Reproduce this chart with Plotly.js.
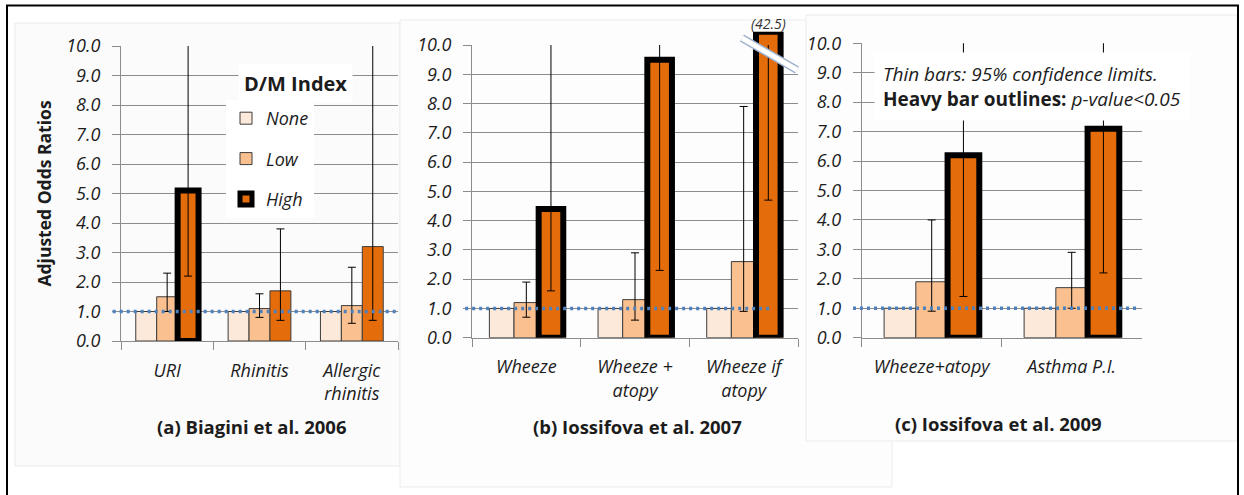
<!DOCTYPE html>
<html><head><meta charset="utf-8">
<script src="https://cdn.plot.ly/plotly-3.0.1.min.js"></script>
<style>html,body{margin:0;padding:0;background:#fff}#chart{width:1244px;height:495px}</style>
</head><body><div id="chart"></div>
<script>
// ---------- data ----------
// upper confidence limits that run off the top of the axis are stored as null
const seriesNames = ['None', 'Low', 'High'];
const refOR = 1.0;

const catsA = ['URI', 'Rhinitis', 'Allergic<br>rhinitis'];
const noneA = [1.0, 1.0, 1.0];
const lowA = [1.5, 1.1, 1.2];
const lowA_lo = [1.0, 0.8, 0.6];
const lowA_hi = [2.3, 1.6, 2.5];
const highA = [5.1, 1.7, 3.2];
const highA_lo = [2.2, 0.7, 0.7];
const highA_hi = [null, 3.8, null];
const sigA = [true, false, false];

const catsB = ['Wheeze', 'Wheeze +<br>atopy', 'Wheeze if<br>atopy'];
const noneB = [1.0, 1.0, 1.0];
const lowB = [1.2, 1.3, 2.6];
const lowB_lo = [0.7, 0.6, 0.9];
const lowB_hi = [1.9, 2.9, 7.9];
const highB = [4.4, 9.5, 42.5];
const highB_lo = [1.6, 2.3, 4.7];
const highB_hi = [null, null, null];
const sigB = [true, true, true];

const catsC = ['Wheeze+atopy', 'Asthma P.I.'];
const noneC = [1.0, 1.0];
const lowC = [1.9, 1.7];
const lowC_lo = [0.9, 1.0];
const lowC_hi = [4.0, 2.9];
const highC = [6.2, 7.1];
const highC_lo = [1.4, 2.2];
const highC_hi = [null, null];
const sigC = [true, true];

const panelTitles = ['(a) Biagini et al. 2006', '(b) Iossifova et al. 2007', '(c) Iossifova et al. 2009'];

// ---------- styling ----------
const W = 1244, H = 495;
const FONT = '"Open Sans", Lato, "DejaVu Sans", sans-serif';
const TXT = '#1c1c1c';
const GRID = '#8c8c8c';
const COLORS = {None: '#FDE9D9', Low: '#FAC090', High: '#E46C0A'};
const THIN = '#3c3c3c';
const BARGAP = 0.32;
const Y_TOP = 10;       // top of every value axis
const Y_BREAK = 10.45;  // where the off-scale bar of panel (b) is cut

const px = v => v / W;
const py = v => 1 - v / H;

function errY(vals, lo, hi) {
  return {type: 'data', symmetric: false,
    array: hi.map((h, i) => (h === null ? Y_TOP + 1 : h) - vals[i]),
    arrayminus: lo.map((l, i) => vals[i] - l),
    color: '#000', thickness: 1, width: 4};
}
const highLine = sig => ({color: sig.map(s => s ? '#000' : THIN), width: sig.map(s => s ? 6 : 1)});

const traces = [];
function addPanel(cats, none, low, lowLo, lowHi, high, highLo, highHi, sig, xa, ya, first, grp) {
  const highShown = high.map(v => Math.min(v, Y_BREAK));
  traces.push({type: 'bar', name: 'None', x: cats, y: none, xaxis: xa, yaxis: ya,
    marker: {color: COLORS.None, line: {color: THIN, width: 1}},
    alignmentgroup: grp, offsetgroup: 'None',
    showlegend: first, legendgroup: 'g1', hoverinfo: 'skip'});
  traces.push({type: 'bar', name: 'Low', x: cats, y: low, xaxis: xa, yaxis: ya,
    marker: {color: COLORS.Low, line: {color: THIN, width: 1}},
    error_y: errY(low, lowLo, lowHi), alignmentgroup: grp, offsetgroup: 'Low',
    showlegend: first, legendgroup: 'g2', hoverinfo: 'skip'});
  traces.push({type: 'bar', name: 'High', x: cats, y: highShown, xaxis: xa, yaxis: ya,
    marker: {color: COLORS.High, line: highLine(sig)},
    error_y: errY(highShown, highLo, highHi), alignmentgroup: grp, offsetgroup: 'High',
    showlegend: first, legendgroup: 'g3', hoverinfo: 'skip'});
  return highShown;
}
addPanel(catsA, noneA, lowA, lowA_lo, lowA_hi, highA, highA_lo, highA_hi, sigA, 'x', 'y', true, 'a');
const highBShown = addPanel(catsB, noneB, lowB, lowB_lo, lowB_hi, highB, highB_lo, highB_hi, sigB, 'x2', 'y2', false, 'b');
addPanel(catsC, noneC, lowC, lowC_lo, lowC_hi, highC, highC_lo, highC_hi, sigC, 'x3', 'y3', false, 'c');
// part of the off-scale bar above the axis top (thin strip subplot above panel b)
traces.push({type: 'bar', name: 'High', x: catsB, y: highBShown, xaxis: 'x2', yaxis: 'y4',
  marker: {color: COLORS.High, line: highLine(sigB)}, alignmentgroup: 'b', offsetgroup: 'High',
  showlegend: false, hoverinfo: 'skip'});

const tickFont = {family: FONT, size: 18, color: TXT, style: 'italic'};
function yax(domain, anchor) {
  return {domain, range: [0, Y_TOP], anchor, tick0: 0, dtick: 1, tickformat: '.1f',
    showgrid: true, gridcolor: GRID, gridwidth: 1, zeroline: false,
    showline: true, linecolor: GRID, linewidth: 1,
    ticks: 'outside', ticklen: 8, tickcolor: GRID, tickwidth: 1,
    tickfont: tickFont, ticklabelstandoff: 8, fixedrange: true};
}
function xax(domain, anchor) {
  return {domain, anchor, type: 'category', showgrid: false, zeroline: false,
    showline: true, linecolor: GRID, linewidth: 1,
    ticks: 'outside', tickson: 'boundaries', ticklen: 8, tickcolor: GRID, tickwidth: 1,
    tickfont: tickFont, ticklabelstandoff: 13, fixedrange: true};
}

const yA = yax([py(341), py(46)], 'x');
yA.title = {text: '<b>Adjusted Odds Ratios</b>', font: {family: FONT, size: 17.5, color: TXT}, standoff: 10};

const dotted = {color: '#4F81BD', width: 3.5, dash: '3px,4px'};
const shapes = [
  // faint panel backgrounds
  {type: 'rect', xref: 'paper', yref: 'paper', x0: px(15), x1: px(400), y0: py(466), y1: py(23),
   fillcolor: '#fbfbfb', line: {color: '#ebebeb', width: 1}, layer: 'below'},
  {type: 'rect', xref: 'paper', yref: 'paper', x0: px(400), x1: px(892), y0: py(487), y1: py(20),
   fillcolor: '#fdfdfd', line: {color: '#ebebeb', width: 1}, layer: 'below'},
  {type: 'rect', xref: 'paper', yref: 'paper', x0: px(806), x1: px(1237), y0: py(441), y1: py(15),
   fillcolor: '#fdfdfd', line: {color: '#ebebeb', width: 1}, layer: 'below'},
  // outer frame
  {type: 'rect', xref: 'paper', yref: 'paper', x0: px(7), x1: px(1238), y0: -0.05, y1: py(5.5),
   line: {color: '#000', width: 2}, layer: 'above'},
  // reference lines at OR = 1
  {type: 'line', xref: 'x domain', yref: 'y', x0: -0.03, x1: 1, y0: refOR, y1: refOR, line: dotted, layer: 'above'},
  {type: 'line', xref: 'x2 domain', yref: 'y2', x0: -0.021, x1: 0.914, y0: refOR, y1: refOR, line: dotted, layer: 'above'},
  {type: 'line', xref: 'x3 domain', yref: 'y3', x0: -0.031, x1: 0.994, y0: refOR, y1: refOR, line: dotted, layer: 'above'},
  // axis-break marker on the off-scale bar
  {type: 'line', xref: 'x2 domain', yref: 'paper', x0: 0.828, x1: 0.997, y0: py(38), y1: py(70),
   line: {color: '#9fb3cf', width: 8}, layer: 'above'},
  {type: 'line', xref: 'x2 domain', yref: 'paper', x0: 0.828, x1: 0.997, y0: py(38), y1: py(70),
   line: {color: '#ffffff', width: 5}, layer: 'above'}
];

const ann = (x, y, text, size, extra) => Object.assign({xref: 'paper', yref: 'paper', x: px(x), y: py(y),
  xanchor: 'center', yanchor: 'middle', text, showarrow: false, font: {family: FONT, size, color: TXT}}, extra || {});
const annotations = [
  ann(295, 84, '<b>D/M Index</b>', 20, {bgcolor: '#fff', borderpad: 5}),
  ann(251, 426, '<b>' + panelTitles[0] + '</b>', 18.5),
  ann(637, 426, '<b>' + panelTitles[1] + '</b>', 18.5),
  ann(998, 423, '<b>' + panelTitles[2] + '</b>', 18.5),
  ann(874, 86, '<i>Thin bars: 95% confidence limits.</i><br><b>Heavy bar outlines:</b> <i>p-value&lt;0.05</i>', 19,
      {xanchor: 'left', align: 'left', bgcolor: '#fff', borderpad: 8})
];
// off-scale value label
highB.forEach((v, i) => {
  if (v > Y_BREAK) {
    annotations.push({xref: 'x2', yref: 'y4', x: i + (1 - BARGAP) / 3, y: Y_BREAK, xanchor: 'center', yanchor: 'bottom',
      yshift: -3, text: '<i>(' + v.toFixed(1) + ')</i>', showarrow: false, font: {family: FONT, size: 14, color: '#333'}});
  }
});

const layout = {
  width: W, height: H, margin: {l: 0, r: 0, t: 0, b: 0},
  paper_bgcolor: '#fff', plot_bgcolor: 'rgba(0,0,0,0)',
  barmode: 'group', bargap: BARGAP, bargroupgap: 0,
  font: {family: FONT, color: TXT},
  showlegend: true,
  legend: {x: px(226), xanchor: 'left', y: py(100), yanchor: 'top', bgcolor: '#fff', borderwidth: 0,
    font: {family: FONT, size: 18, color: TXT, style: 'italic'}, tracegroupgap: 14, traceorder: 'grouped'},
  xaxis: xax([px(121), px(398)], 'y'),
  yaxis: yA,
  xaxis2: xax([px(472), px(798)], 'y2'),
  yaxis2: yax([py(337.7), py(45)], 'x2'),
  yaxis4: {domain: [py(45), py(45 - (Y_BREAK - Y_TOP) * 29.27)], range: [Y_TOP, Y_BREAK], anchor: 'x2',
    visible: false, showgrid: false, zeroline: false, fixedrange: true},
  xaxis3: xax([px(861.7), px(1141.7)], 'y3'),
  yaxis3: yax([py(337.7), py(43.3)], 'x3'),
  shapes, annotations, hovermode: false
};

Plotly.newPlot('chart', traces, layout, {staticPlot: true, displayModeBar: false});
</script>
</body></html>
